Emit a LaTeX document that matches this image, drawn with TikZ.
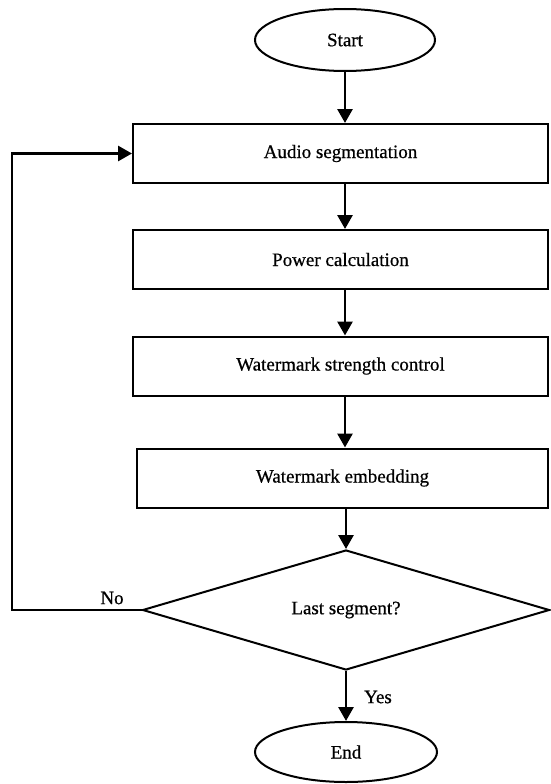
\documentclass[tikz,border=0pt]{standalone}
\usepackage{fontspec}
\setmainfont{Liberation Serif}[FakeBold=0.6]
\usetikzlibrary{shapes.geometric,arrows.meta}
\begin{document}
\begin{tikzpicture}[x=1pt,y=-1pt,
  every node/.style={font=\fontsize{19}{22}\selectfont},
  term/.style={ellipse,draw,line width=2pt,minimum width=180pt,minimum height=62pt,inner sep=0pt},
  procbox/.style={rectangle,draw,line width=2pt,minimum width=415pt,minimum height=59pt,inner sep=0pt},
  decide/.style={diamond,draw,line width=2pt,shape aspect=3.39,minimum width=407pt,minimum height=120pt,inner sep=0pt},
  flow/.style={line width=2.8pt,-{Triangle[length=14pt,width=15pt]}},
  lbl/.style={inner sep=0pt}]
\useasboundingbox (0,0) rectangle (551,784);
\node[term] (start) at (345,40) {Start};
\node[procbox] (b1) at (340.5,153.5) {Audio segmentation};
\node[procbox] (b2) at (340.5,259.5) {Power calculation};
\node[procbox] (b3) at (340.5,366) {Watermark strength control};
\node[procbox,minimum width=411pt] (b4) at (342.5,478) {Watermark embedding};
\node[decide] (d) at (346,610) {Last segment?};
\node[term,minimum width=182pt,minimum height=60pt] (end) at (346,752) {End};
\coordinate (c1) at (12,610);
\coordinate (c2) at (12,153.5);
\draw[flow] (start.south) -- (start.south |- b1.north);
\draw[flow] (start.south |- b1.south) -- (start.south |- b2.north);
\draw[flow] (start.south |- b2.south) -- (start.south |- b3.north);
\draw[flow] (start.south |- b3.south) -- (start.south |- b4.north);
\draw[flow] (d.north |- b4.south) -- (d.north);
\draw[flow] (d.south) -- (end.north -| d.south);
\draw[flow] (d.west) -- (c1) -- (c2) -- (b1.west);
\node[lbl] (no) at (112,598) {No};
\node[lbl] (yes) at (378,697) {Yes};
\end{tikzpicture}
\end{document}
